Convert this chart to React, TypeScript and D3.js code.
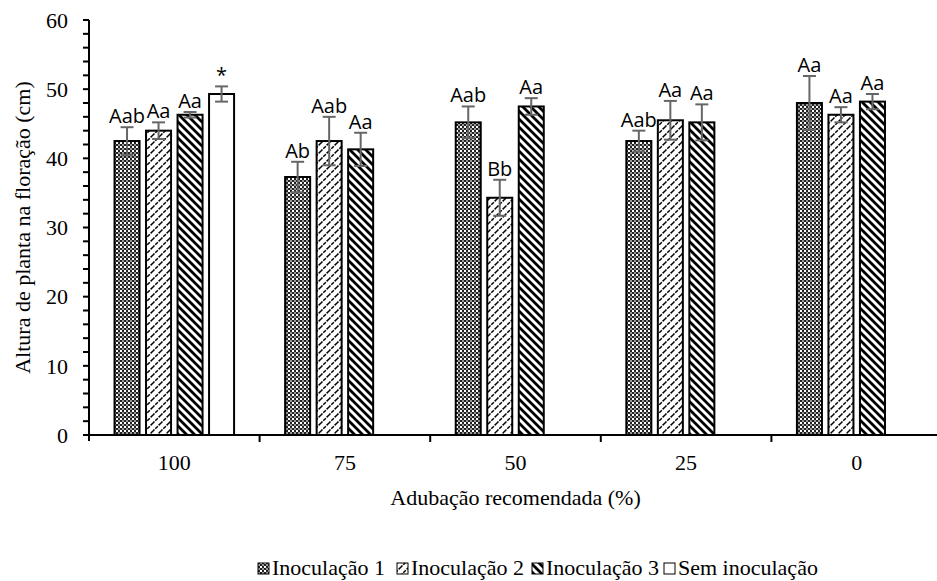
import React from "react";
import * as d3 from "d3";

const categories = ["100", "75", "50", "25", "0"];
const seriesNames = ["Inoculação 1", "Inoculação 2", "Inoculação 3", "Sem inoculação"];
const inoc1 = [42.5, 37.3, 45.2, 42.5, 48.0];
const inoc1Err = [2.0, 2.2, 2.3, 1.5, 3.9];
const inoc2 = [44.0, 42.5, 34.3, 45.5, 46.3];
const inoc2Err = [1.2, 3.5, 2.6, 2.8, 1.1];
const inoc3 = [46.3, 41.3, 47.5, 45.2, 48.2];
const inoc3Err = [0.4, 2.4, 1.2, 2.6, 1.1];
const semInoc = [49.3, null, null, null, null];
const semInocErr = [1.1, null, null, null, null];
const inoc1Labels = ["Aab", "Ab", "Aab", "Aab", "Aa"];
const inoc2Labels = ["Aa", "Aab", "Bb", "Aa", "Aa"];
const inoc3Labels = ["Aa", "Aa", "Aa", "Aa", "Aa"];
const semInocLabels = ["*", "", "", "", ""];
const yTicks = [0, 10, 20, 30, 40, 50, 60];

const seriesValues = [inoc1, inoc2, inoc3, semInoc];
const seriesErrs = [inoc1Err, inoc2Err, inoc3Err, semInocErr];
const seriesLabels = [inoc1Labels, inoc2Labels, inoc3Labels, semInocLabels];
const fills = ["url(#pChecker)", "url(#pUp)", "url(#pDown)", "#ffffff"];

const serifStyle = { fontFamily: "Liberation Serif, DejaVu Serif, serif", fontSize: "22px" };
const sansStyle = { fontFamily: "Open Sans, Noto Sans, sans-serif", fontSize: "20px" };

export default function App() {
  const W = 937, H = 581;
  const left = 89, right = 942, top = 20, bottom = 435;
  const x = d3.scaleBand<string>().domain(categories).range([left, right]).paddingInner(0).paddingOuter(0);
  const xs = d3.scaleBand<string>().domain(seriesNames).range([0, x.bandwidth()]).paddingInner(0.206).paddingOuter(0.81);
  const y = d3.scaleLinear().domain([0, 60]).range([bottom, top]);
  const minor = d3.range(0, 61, 2);
  const bw = xs.bandwidth();
  const legendX = [258, 397, 532, 664];

  return (
    <svg width={W} height={H} style={{ display: "block", position: "absolute", left: 0, top: 0, background: "#fff" }}>
      <defs>
        <pattern id="pChecker" width="4" height="4" patternUnits="userSpaceOnUse">
          <rect width="4" height="4" fill="#fff" />
          <rect x="0" y="0" width="2" height="2" fill="#222" />
          <rect x="2" y="2" width="2" height="2" fill="#222" />
          <rect x="2" y="0" width="2" height="2" fill="#999" />
        </pattern>
        <pattern id="pUp" width="8" height="8" patternUnits="userSpaceOnUse">
          <rect width="8" height="8" fill="#fff" />
          <path d="M-2,2 L2,-2 M0,8 L8,0 M6,10 L10,6" stroke="#000" strokeWidth="1.5" strokeDasharray="3.5,1.2" />
        </pattern>
        <pattern id="pDown" width="8" height="8" patternUnits="userSpaceOnUse">
          <rect width="8" height="8" fill="#fff" />
          <path d="M-2,6 L2,10 M0,0 L8,8 M6,-2 L10,2" stroke="#000" strokeWidth="2.8" />
        </pattern>
      </defs>
      <rect width={W} height={H} fill="#fff" />

      {seriesValues.map((vals, si) =>
        vals.map((v, ci) => {
          if (v == null) return null;
          const bx = (x(categories[ci]) as number) + (xs(seriesNames[si]) as number);
          return (
            <rect key={`b${si}-${ci}`} x={bx} y={y(v)} width={bw} height={y(0) - y(v)}
              fill={fills[si]} stroke="#000" strokeWidth={2} />
          );
        })
      )}

      {seriesValues.map((vals, si) =>
        vals.map((v, ci) => {
          const e = seriesErrs[si][ci];
          if (v == null || e == null) return null;
          const cx = (x(categories[ci]) as number) + (xs(seriesNames[si]) as number) + bw / 2;
          const y1 = y(v + e), y2 = y(v - e);
          return (
            <g key={`e${si}-${ci}`} stroke="#666" strokeWidth={2}>
              <line x1={cx} x2={cx} y1={y1} y2={y2} />
              <line x1={cx - 6.5} x2={cx + 6.5} y1={y1} y2={y1} />
              <line x1={cx - 6.5} x2={cx + 6.5} y1={y2} y2={y2} />
            </g>
          );
        })
      )}

      {seriesValues.map((vals, si) =>
        vals.map((v, ci) => {
          const e = seriesErrs[si][ci];
          const lab = seriesLabels[si][ci];
          if (v == null || !lab) return null;
          const cx = (x(categories[ci]) as number) + (xs(seriesNames[si]) as number) + bw / 2;
          return (
            <text key={`l${si}-${ci}`} x={cx} y={y(v + (e || 0)) - 4} textAnchor="middle"
              style={sansStyle} fill="#000">{lab}</text>
          );
        })
      )}

      <line x1={left} x2={left} y1={top} y2={bottom + 6} stroke="#000" strokeWidth={2} />
      {minor.map((t) => (
        <line key={`m${t}`} x1={left - 6} x2={left} y1={y(t)} y2={y(t)} stroke="#000" strokeWidth={2} />
      ))}
      {yTicks.map((t) => (
        <text key={`yt${t}`} x={68} y={y(t)} dy="0.35em" textAnchor="end" style={serifStyle} fill="#000">{t}</text>
      ))}

      <line x1={left} x2={W} y1={bottom} y2={bottom} stroke="#000" strokeWidth={2} />
      {categories.map((c) => (
        <line key={`xt${c}`} x1={(x(c) as number) + x.bandwidth()} x2={(x(c) as number) + x.bandwidth()} y1={bottom} y2={bottom + 7} stroke="#000" strokeWidth={2} />
      ))}
      {categories.map((c) => (
        <text key={`xl${c}`} x={(x(c) as number) + x.bandwidth() / 2} y={470} textAnchor="middle" style={serifStyle} fill="#000">{c}</text>
      ))}

      <text x={(left + right) / 2} y={505} textAnchor="middle" style={serifStyle} fill="#000">Adubação recomendada (%)</text>
      <text transform={`translate(30, ${(top + bottom) / 2}) rotate(-90)`} textAnchor="middle" style={serifStyle} fill="#000">Altura de planta na floração (cm)</text>

      {seriesNames.map((n, i) => (
        <g key={`lg${i}`}>
          <rect x={legendX[i]} y={563} width={11} height={11} fill={fills[i]} stroke="#000" strokeWidth={1} />
          <text x={legendX[i] + 14} y={575} style={serifStyle} fill="#000">{n}</text>
        </g>
      ))}
    </svg>
  );
}
